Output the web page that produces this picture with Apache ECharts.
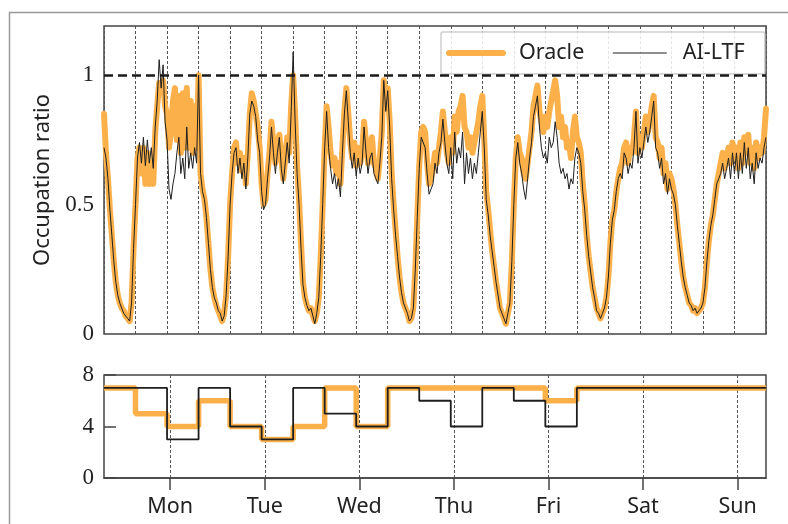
<!DOCTYPE html>
<html><head><meta charset="utf-8">
<script src="https://cdn.jsdelivr.net/npm/echarts@6/dist/echarts.min.js"></script>
<style>html,body{margin:0;padding:0;background:#fff}#c{width:788px;height:524px}</style>
</head><body><div id="c"></div>
<script>
// half-hourly samples, hour = index * SAMPLE_STEP
const SAMPLE_STEP = 0.5;
const oracle = [
0.85,0.70,0.60,0.48,0.38,0.28,0.20,0.15,0.12,0.10,0.09,0.07,0.06,0.05,0.12,0.33,
0.50,0.68,0.72,0.62,0.72,0.58,0.70,0.58,0.66,0.58,0.78,0.88,0.97,0.95,0.98,0.88,
0.85,0.72,0.78,0.90,0.95,0.75,0.92,0.70,0.93,0.72,0.95,0.72,0.90,0.70,0.88,0.72,
1.00,0.62,0.56,0.52,0.45,0.35,0.25,0.18,0.14,0.11,0.09,0.07,0.05,0.08,0.15,0.30,
0.50,0.62,0.72,0.74,0.66,0.70,0.63,0.68,0.58,0.70,0.85,0.93,0.90,0.85,0.80,0.72,
0.58,0.50,0.52,0.62,0.70,0.82,0.74,0.66,0.72,0.77,0.68,0.60,0.68,0.76,0.70,0.88,
1.00,0.85,0.65,0.52,0.35,0.20,0.14,0.11,0.09,0.10,0.07,0.05,0.08,0.14,0.30,0.50,
0.72,0.88,0.80,0.70,0.65,0.68,0.62,0.66,0.58,0.72,0.86,0.95,0.85,0.74,0.68,0.74,
0.65,0.72,0.66,0.70,0.82,0.74,0.66,0.72,0.76,0.66,0.64,0.60,0.68,0.78,0.98,0.88,
0.95,0.82,0.62,0.50,0.40,0.30,0.22,0.16,0.12,0.10,0.08,0.05,0.06,0.10,0.25,0.45,
0.65,0.78,0.80,0.78,0.66,0.58,0.60,0.64,0.70,0.66,0.72,0.78,0.86,0.78,0.70,0.66,
0.76,0.70,0.84,0.78,0.86,0.88,0.92,0.80,0.78,0.72,0.76,0.70,0.74,0.78,0.82,0.88,
0.92,0.75,0.55,0.48,0.40,0.32,0.26,0.20,0.15,0.10,0.08,0.06,0.04,0.08,0.12,0.28,
0.50,0.68,0.76,0.70,0.68,0.62,0.60,0.66,0.72,0.78,0.88,0.92,0.96,0.86,0.82,0.78,
0.84,0.80,0.86,0.90,0.94,0.98,0.92,0.80,0.84,0.76,0.80,0.72,0.74,0.68,0.78,0.84,
0.76,0.74,0.70,0.58,0.50,0.38,0.30,0.24,0.18,0.14,0.10,0.08,0.06,0.08,0.10,0.14,
0.22,0.35,0.44,0.48,0.55,0.60,0.64,0.66,0.72,0.74,0.66,0.72,0.70,0.76,0.86,0.70,
0.76,0.72,0.78,0.84,0.78,0.82,0.88,0.92,0.76,0.74,0.68,0.72,0.62,0.66,0.56,0.62,
0.60,0.56,0.50,0.42,0.35,0.28,0.22,0.18,0.15,0.12,0.11,0.09,0.10,0.08,0.09,0.10,
0.12,0.18,0.28,0.36,0.42,0.46,0.52,0.58,0.62,0.66,0.70,0.64,0.68,0.72,0.66,0.74,
0.68,0.72,0.64,0.74,0.66,0.76,0.70,0.77,0.66,0.72,0.64,0.74,0.68,0.72,0.70,0.76,
0.87];
const aiLtf = [
0.72,0.68,0.60,0.48,0.38,0.28,0.20,0.15,0.12,0.10,0.08,0.07,0.06,0.05,0.12,0.33,
0.50,0.68,0.74,0.66,0.76,0.65,0.75,0.66,0.72,0.64,0.80,0.90,1.06,0.95,1.04,0.82,
0.75,0.56,0.52,0.58,0.62,0.70,0.76,0.62,0.68,0.60,0.80,0.64,0.70,0.64,0.72,0.66,
1.00,0.62,0.55,0.52,0.45,0.35,0.25,0.18,0.14,0.12,0.09,0.08,0.05,0.07,0.15,0.30,
0.50,0.62,0.70,0.72,0.62,0.68,0.60,0.66,0.56,0.68,0.85,0.90,0.88,0.84,0.75,0.70,
0.55,0.48,0.50,0.60,0.68,0.80,0.70,0.62,0.70,0.76,0.64,0.58,0.66,0.74,0.66,0.86,
1.09,0.82,0.62,0.50,0.33,0.19,0.14,0.11,0.09,0.10,0.07,0.04,0.08,0.14,0.30,0.50,
0.72,0.86,0.72,0.64,0.58,0.62,0.56,0.60,0.53,0.70,0.85,0.94,0.82,0.70,0.64,0.70,
0.61,0.68,0.62,0.66,0.80,0.70,0.62,0.68,0.70,0.62,0.60,0.58,0.66,0.76,0.98,0.86,
0.94,0.80,0.60,0.48,0.38,0.30,0.22,0.16,0.12,0.10,0.08,0.05,0.06,0.10,0.25,0.45,
0.64,0.76,0.76,0.72,0.62,0.54,0.56,0.58,0.66,0.62,0.70,0.74,0.83,0.74,0.66,0.62,
0.72,0.60,0.78,0.66,0.72,0.68,0.78,0.58,0.70,0.62,0.68,0.60,0.66,0.62,0.70,0.78,
0.86,0.72,0.52,0.46,0.38,0.32,0.26,0.20,0.15,0.10,0.08,0.06,0.04,0.08,0.12,0.28,
0.50,0.68,0.74,0.66,0.62,0.56,0.52,0.60,0.68,0.74,0.84,0.88,0.92,0.80,0.72,0.68,
0.70,0.66,0.76,0.72,0.74,0.82,0.76,0.66,0.62,0.64,0.60,0.62,0.56,0.60,0.58,0.68,
0.72,0.70,0.66,0.55,0.48,0.38,0.30,0.24,0.18,0.14,0.09,0.08,0.06,0.08,0.10,0.14,
0.22,0.35,0.44,0.48,0.55,0.60,0.62,0.60,0.70,0.68,0.62,0.66,0.64,0.72,0.86,0.66,
0.72,0.68,0.74,0.80,0.74,0.78,0.84,0.90,0.72,0.70,0.64,0.68,0.58,0.62,0.54,0.60,
0.56,0.54,0.50,0.42,0.35,0.28,0.22,0.18,0.15,0.12,0.11,0.09,0.10,0.08,0.09,0.10,
0.12,0.18,0.28,0.36,0.42,0.46,0.52,0.58,0.60,0.62,0.66,0.60,0.64,0.68,0.60,0.70,
0.62,0.70,0.60,0.70,0.62,0.74,0.64,0.72,0.60,0.66,0.58,0.70,0.64,0.68,0.66,0.72,
0.76];
const segmentHours = [0,8,16,24,32,40,48,56,64,72,80,88,96,104,112,120,128,136,144,152,160,168];
const oracleLevel = [7,5,4,6,4,3,4,7,4,7,7,7,7,7,6,7,7,7,7,7,7,7];
const aiLtfLevel  = [7,7,3,7,4,3,7,5,4,7,6,4,7,6,4,7,7,7,7,7,7,7];
const dayNames = ['Mon','Tue','Wed','Thu','Fri','Sat','Sun'];
const dayTickHours = [16.8,40.8,64.8,88.8,112.8,136.8,160.8];
const capacityLine = 1;

const ORANGE = '#FCB04A';
const INK = '#1e1e1e';
const SANS = "'Noto Sans','Open Sans',sans-serif";
const SERIF = "'Liberation Serif','DejaVu Serif',serif";

const toPairs = arr => arr.map((v, i) => [i * SAMPLE_STEP, v]);
const stepPairs = lv => segmentHours.map((h, i) => [h, lv[i]]);

const chart = echarts.init(document.getElementById('c'), null, {renderer: 'canvas'});
const frame = {show: true, borderColor: '#444', borderWidth: 1.5, backgroundColor: 'transparent'};
const vDash = {show: true, lineStyle: {color: '#555', width: 1, type: [3, 2]}};

chart.setOption({
  animation: false,
  backgroundColor: '#fff',
  graphic: [{
    type: 'rect', left: 7, top: 10, z: -10, silent: true,
    shape: {x: 0, y: 0, width: 800, height: 600},
    style: {fill: 'none', stroke: '#999', lineWidth: 1.5}
  }],
  legend: {
    left: 441, top: 32, orient: 'horizontal',
    padding: [10, 20, 10, 5],
    itemGap: 28, itemWidth: 54, itemHeight: 16,
    backgroundColor: 'rgba(255,255,255,0.85)',
    borderColor: '#d0d0d0', borderWidth: 1.5, borderRadius: 2,
    textStyle: {fontFamily: SANS, fontSize: 21.5, color: '#222', padding: [0, 0, 0, 11]},
    data: [
      {name: 'Oracle', itemStyle: {opacity: 0}, lineStyle: {color: ORANGE, width: 6}},
      {name: 'AI-LTF', itemStyle: {opacity: 0}, lineStyle: {color: INK, width: 1}}
    ]
  },
  grid: [
    Object.assign({left: 104, top: 26, width: 662, height: 308}, frame),
    Object.assign({left: 104, top: 375, width: 662, height: 103}, frame)
  ],
  xAxis: [
    {type: 'value', gridIndex: 0, min: 0, max: 168, interval: 8,
     axisLine: {show: false}, axisTick: {show: false}, axisLabel: {show: false},
     splitLine: vDash},
    {type: 'value', gridIndex: 1, min: 0, max: 168, interval: 8,
     axisLine: {show: true, lineStyle: {color: '#444', width: 1.5}},
     axisTick: {show: true, customValues: dayTickHours, length: 12, inside: false,
                lineStyle: {color: '#444', width: 1.5}},
     axisLabel: {show: true, customValues: dayTickHours, margin: 18,
                 fontFamily: SANS, fontSize: 21.5, color: '#222',
                 formatter: v => {
                   let best = 0;
                   dayTickHours.forEach((t, i) => { if (Math.abs(t - v) < Math.abs(dayTickHours[best] - v)) best = i; });
                   return dayNames[best];
                 }},
     splitLine: vDash}
  ],
  yAxis: [
    {type: 'value', gridIndex: 0, min: 0, max: 1.19, interval: 0.5,
     name: 'Occupation ratio', nameLocation: 'middle', nameGap: 50, nameRotate: 90,
     nameTextStyle: {fontFamily: SANS, fontSize: 22, color: '#222'},
     axisLine: {show: false}, axisTick: {show: false}, splitLine: {show: false},
     axisLabel: {showMaxLabel: false, margin: 10, fontFamily: SERIF, fontSize: 23, color: '#222'}},
    {type: 'value', gridIndex: 1, min: 0, max: 8, interval: 4,
     axisLine: {show: false},
     axisTick: {show: true, inside: true, length: 12, lineStyle: {color: '#444', width: 1.5}},
     splitLine: {show: false},
     axisLabel: {margin: 10, fontFamily: SERIF, fontSize: 23, color: '#222'}}
  ],
  series: [
    {name: 'Oracle', type: 'line', xAxisIndex: 0, yAxisIndex: 0, data: toPairs(oracle),
     symbol: 'none', showSymbol: false, z: 2,
     lineStyle: {color: ORANGE, width: 6, join: 'round', cap: 'round'}, itemStyle: {color: ORANGE}},
    {name: 'AI-LTF', type: 'line', xAxisIndex: 0, yAxisIndex: 0, data: toPairs(aiLtf),
     symbol: 'none', showSymbol: false, z: 3,
     lineStyle: {color: INK, width: 1}, itemStyle: {color: INK},
     markLine: {silent: true, symbol: ['none', 'none'], label: {show: false},
                lineStyle: {color: '#1a1a1a', width: 2.6, type: [9, 5]},
                data: [{yAxis: capacityLine}]}},
    {name: 'Oracle', type: 'line', xAxisIndex: 1, yAxisIndex: 1, data: stepPairs(oracleLevel),
     step: 'end', symbol: 'none', showSymbol: false, z: 2,
     lineStyle: {color: ORANGE, width: 5.5}, itemStyle: {color: ORANGE}},
    {name: 'AI-LTF', type: 'line', xAxisIndex: 1, yAxisIndex: 1, data: stepPairs(aiLtfLevel),
     step: 'end', symbol: 'none', showSymbol: false, z: 3,
     lineStyle: {color: INK, width: 1.8}, itemStyle: {color: INK}}
  ]
});
</script></body></html>
